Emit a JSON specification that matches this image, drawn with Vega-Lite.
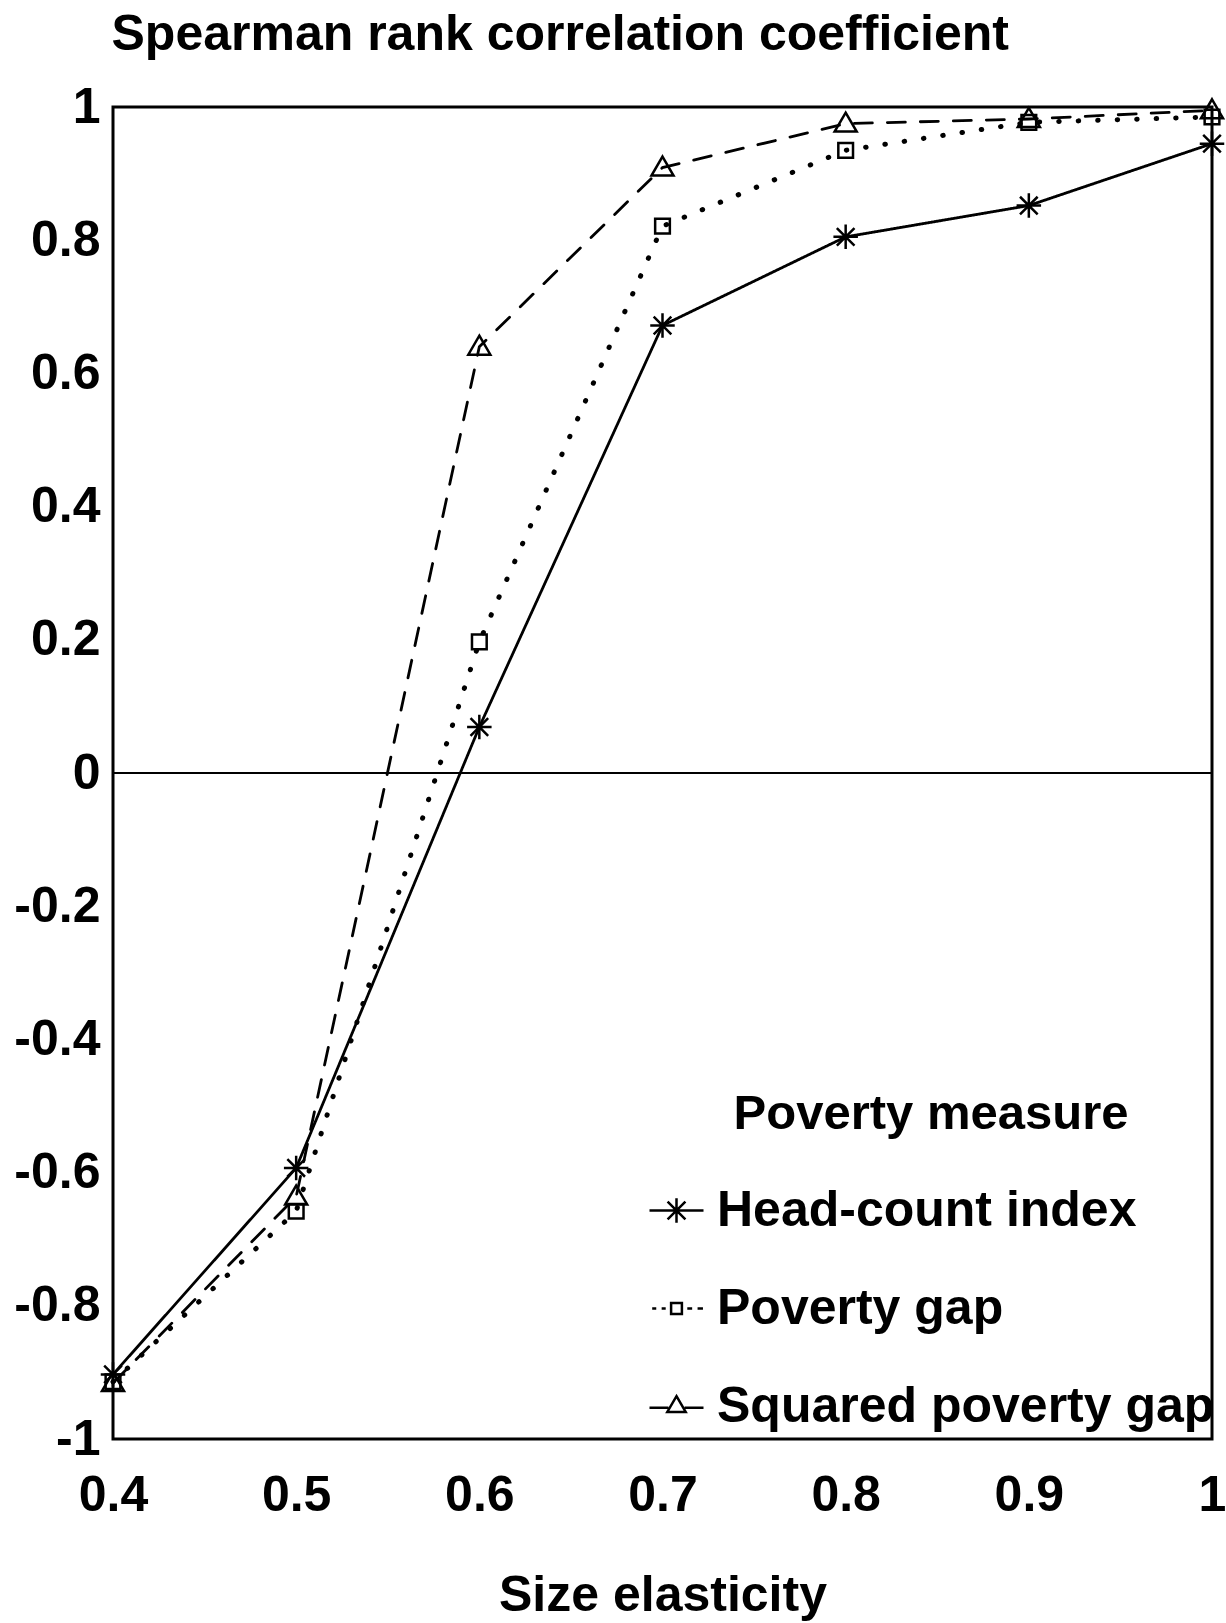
{
  "$schema": "https://vega.github.io/schema/vega-lite/v6.json",
  "width": 1099,
  "height": 1332,
  "autosize": {"type": "none"},
  "padding": {"left": 113, "top": 107, "right": 14, "bottom": 184},
  "background": "white",
  "config": {
    "font": "Liberation Sans",
    "view": {"stroke": "black", "strokeWidth": 3},
    "axis": {
      "domain": false,
      "ticks": false,
      "tickSize": 0,
      "grid": false,
      "labelFont": "Liberation Sans",
      "labelFontWeight": "bold",
      "labelFontSize": 50,
      "labelColor": "black",
      "labelFlush": false,
      "labelOverlap": false,
      "labelBound": false,
      "titleFont": "Liberation Sans",
      "titleFontWeight": "bold",
      "titleFontSize": 50,
      "titleColor": "black"
    }
  },
  "datasets": {
    "series": [
      {"measure": "Head-count index", "elasticity": 0.4, "rho": -0.903},
      {"measure": "Head-count index", "elasticity": 0.5, "rho": -0.593},
      {"measure": "Head-count index", "elasticity": 0.6, "rho": 0.069},
      {"measure": "Head-count index", "elasticity": 0.7, "rho": 0.672},
      {"measure": "Head-count index", "elasticity": 0.8, "rho": 0.805},
      {"measure": "Head-count index", "elasticity": 0.9, "rho": 0.852},
      {"measure": "Head-count index", "elasticity": 1.0, "rho": 0.945},
      {"measure": "Poverty gap", "elasticity": 0.4, "rho": -0.914},
      {"measure": "Poverty gap", "elasticity": 0.5, "rho": -0.658},
      {"measure": "Poverty gap", "elasticity": 0.6, "rho": 0.197},
      {"measure": "Poverty gap", "elasticity": 0.7, "rho": 0.821},
      {"measure": "Poverty gap", "elasticity": 0.8, "rho": 0.935},
      {"measure": "Poverty gap", "elasticity": 0.9, "rho": 0.977},
      {"measure": "Poverty gap", "elasticity": 1.0, "rho": 0.985},
      {"measure": "Squared poverty gap", "elasticity": 0.4, "rho": -0.916},
      {"measure": "Squared poverty gap", "elasticity": 0.5, "rho": -0.636},
      {"measure": "Squared poverty gap", "elasticity": 0.6, "rho": 0.640},
      {"measure": "Squared poverty gap", "elasticity": 0.7, "rho": 0.909},
      {"measure": "Squared poverty gap", "elasticity": 0.8, "rho": 0.975},
      {"measure": "Squared poverty gap", "elasticity": 0.9, "rho": 0.982},
      {"measure": "Squared poverty gap", "elasticity": 1.0, "rho": 0.995}
    ]
  },
  "resolve": {
    "scale": {"shape": "independent"},
    "legend": {"shape": "independent"}
  },
  "layer": [
    {
      "data": {"values": [{"level": "zero"}]},
      "mark": {"type": "rule", "stroke": "black", "strokeWidth": 2},
      "encoding": {
        "y": {"datum": 0, "type": "quantitative"}
      }
    },
    {
      "data": {"name": "series"},
      "mark": {"type": "point", "filled": false, "stroke": "black", "strokeWidth": 2.5, "opacity": 0, "size": 600},
      "encoding": {
        "x": {"field": "elasticity", "type": "quantitative"},
        "y": {"field": "rho", "type": "quantitative"},
        "shape": {
          "field": "measure",
          "type": "nominal",
          "scale": {
            "domain": ["Head-count index", "Poverty gap", "Squared poverty gap"],
            "range": [
              "M-1,0H1M0,-0.45V0.45M-0.33,-0.33L0.33,0.33M-0.33,0.33L0.33,-0.33",
              "M-0.9,0H-0.75M-0.55,0H-0.4M-0.2,-0.2H0.2V0.2H-0.2ZM0.4,0H0.58M0.78,0H0.98",
              "M-1,0.05H-0.3M0.3,0.05H1M0,-0.38L0.34,0.2H-0.34Z"
            ]
          },
          "legend": {
            "title": "Poverty measure",
            "orient": "none",
            "legendX": 535,
            "legendY": 983,
            "padding": 0,
            "titleFont": "Liberation Sans",
            "titleFontWeight": "bold",
            "titleFontSize": 49,
            "titleColor": "black",
            "titleAnchor": "middle",
            "titlePadding": 43,
            "titleLimit": 800,
            "labelFont": "Liberation Sans",
            "labelFontWeight": "bold",
            "labelFontSize": 50,
            "labelColor": "black",
            "labelOffset": 12,
            "labelLimit": 800,
            "symbolSize": 2916,
            "symbolStrokeWidth": 2.5,
            "symbolStrokeColor": "black",
            "symbolFillColor": "transparent",
            "symbolOpacity": 1,
            "rowPadding": 44
          }
        }
      }
    },
    {
      "data": {"name": "series"},
      "mark": {"type": "line", "stroke": "black", "strokeCap": "round"},
      "encoding": {
        "x": {
          "field": "elasticity",
          "type": "quantitative",
          "scale": {"domain": [0.4, 1], "nice": false, "zero": false},
          "axis": {
            "title": "Size elasticity",
            "values": [0.4, 0.5, 0.6, 0.7, 0.8, 0.9, 1],
            "labelExpr": "datum.value + ''",
            "labelBaseline": "middle",
            "labelPadding": 56,
            "titleBaseline": "middle",
            "titleY": 156
          }
        },
        "y": {
          "field": "rho",
          "type": "quantitative",
          "scale": {"domain": [-1, 1], "nice": false, "zero": false},
          "axis": {
            "title": "Spearman rank correlation coefficient",
            "values": [-1, -0.8, -0.6, -0.4, -0.2, 0, 0.2, 0.4, 0.6, 0.8, 1],
            "labelExpr": "datum.value + ''",
            "labelBaseline": "middle",
            "labelPadding": 13,
            "titleAngle": 0,
            "titleAlign": "left",
            "titleBaseline": "middle",
            "titleX": -2,
            "titleY": -73
          }
        },
        "strokeDash": {
          "field": "measure",
          "type": "nominal",
          "scale": {
            "domain": ["Squared poverty gap", "Poverty gap", "Head-count index"],
            "range": [[18, 15], [0.5, 19], [1, 0]]
          },
          "legend": null
        },
        "strokeWidth": {
          "field": "measure",
          "type": "nominal",
          "scale": {
            "type": "ordinal",
            "domain": ["Poverty gap", "Head-count index", "Squared poverty gap"],
            "range": [5, 2.8, 2.8]
          },
          "legend": null
        }
      }
    },
    {
      "data": {"name": "series"},
      "mark": {"type": "point", "filled": false, "stroke": "black", "strokeWidth": 2.5, "opacity": 1, "size": 600},
      "encoding": {
        "x": {"field": "elasticity", "type": "quantitative"},
        "y": {"field": "rho", "type": "quantitative"},
        "shape": {
          "field": "measure",
          "type": "nominal",
          "scale": {
            "domain": ["Head-count index", "Poverty gap", "Squared poverty gap"],
            "range": [
              "M0,-1V1M-1,0H1M-0.72,-0.72L0.72,0.72M-0.72,0.72L0.72,-0.72",
              "M-0.6,-0.6H0.6V0.6H-0.6Z",
              "M0,-0.9L0.9,0.65H-0.9Z"
            ]
          },
          "legend": null
        }
      }
    }
  ]
}
